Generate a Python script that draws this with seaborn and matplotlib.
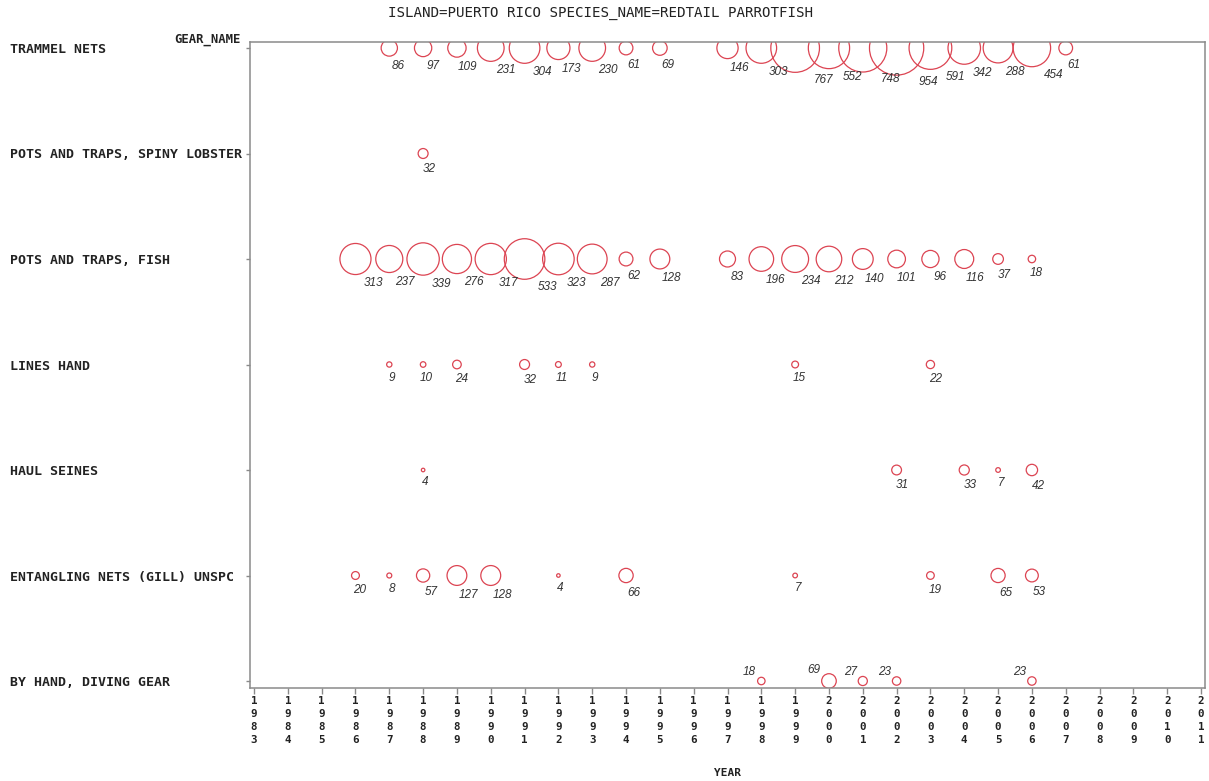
import numpy as np
import pandas as pd
import matplotlib
matplotlib.use("Agg")
import matplotlib.pyplot as plt
import seaborn as sns

# gear names, top row first
gears = ["TRAMMEL NETS", "POTS AND TRAPS, SPINY LOBSTER", "POTS AND TRAPS, FISH",
         "LINES HAND", "HAUL SEINES", "ENTANGLING NETS (GILL) UNSPC",
         "BY HAND, DIVING GEAR"]

trammel_years = [1987, 1988, 1989, 1990, 1991, 1992, 1993, 1994, 1995,
                 1997, 1998, 1999, 2000, 2001, 2002, 2003, 2004, 2005, 2006, 2007]
trammel_vals = [86, 97, 109, 231, 304, 173, 230, 61, 69,
                146, 303, 767, 552, 748, 954, 591, 342, 288, 454, 61]

lobster_years = [1988]
lobster_vals = [32]

fish_years = [1986, 1987, 1988, 1989, 1990, 1991, 1992, 1993, 1994, 1995,
              1997, 1998, 1999, 2000, 2001, 2002, 2003, 2004, 2005, 2006]
fish_vals = [313, 237, 339, 276, 317, 533, 323, 287, 62, 128,
             83, 196, 234, 212, 140, 101, 96, 116, 37, 18]

lines_years = [1987, 1988, 1989, 1991, 1992, 1993, 1999, 2003]
lines_vals = [9, 10, 24, 32, 11, 9, 15, 22]

seine_years = [1988, 2002, 2004, 2005, 2006]
seine_vals = [4, 31, 33, 7, 42]

gill_years = [1986, 1987, 1988, 1989, 1990, 1992, 1994, 1999, 2003, 2005, 2006]
gill_vals = [20, 8, 57, 127, 128, 4, 66, 7, 19, 65, 53]

diving_years = [1998, 2000, 2001, 2002, 2006]
diving_vals = [18, 69, 27, 23, 23]

year_ticks = list(range(1983, 2012))

series = [(trammel_years, trammel_vals), (lobster_years, lobster_vals),
          (fish_years, fish_vals), (lines_years, lines_vals),
          (seine_years, seine_vals), (gill_years, gill_vals),
          (diving_years, diving_vals)]

rows = []
for i, (yrs, vals) in enumerate(series):
    for yr, v in zip(yrs, vals):
        rows.append({"gear": gears[i], "pos": len(gears) - 1 - i, "year": yr, "value": v})
df = pd.DataFrame(rows)

RED = "#dc4452"
GRAY = "#8a8a8a"
MONO = "DejaVu Sans Mono"

sns.set_theme(style="white")
plt.rcParams["font.family"] = ["DejaVu Sans"]

fig = plt.figure(figsize=(12.09, 7.81), dpi=100)
ax = fig.add_axes([250 / 1209, 1 - 688 / 781, 955 / 1209, 646 / 781])

# marker area proportional to value
K = 1.6
vmin, vmax = df["value"].min(), df["value"].max()
sns.scatterplot(data=df, x="year", y="pos", size="value",
                sizes=(K * vmin, K * vmax), size_norm=(vmin, vmax),
                legend=False, facecolor="none", edgecolor=RED,
                linewidth=0.9, ax=ax)
for c in ax.collections:
    c.set_facecolor("none")
    c.set_edgecolor(RED)

# value labels beside each bubble
for _, r in df.iterrows():
    rad = 0.88 * np.sqrt(r["value"])  # px
    if r["pos"] == 0:
        dx, dy = -(rad + 8), 0.5 * rad + 7
    else:
        dx, dy = 1.15 * rad, -(0.85 * rad + 11)
    ax.annotate(str(r["value"]), (r["year"], r["pos"]),
                xytext=(dx * 0.72, dy * 0.72), textcoords="offset points",
                ha="center", va="center", fontsize=8.5, style="italic",
                family="Liberation Sans", color="#333333")

ax.set_xlim(1983 - 4 / 33.82, 2011 + 4 / 33.82)
ax.set_ylim(-7 / 105.5, 6 + 6 / 105.5)

ax.set_xticks(year_ticks)
ax.set_xticklabels(["\n".join(str(y)) for y in year_ticks], family=MONO,
                   weight="bold", fontsize=7.8, linespacing=1.4, color="#222222")
ax.set_yticks(range(len(gears)))
ax.set_yticklabels(gears[::-1], family=MONO, weight="bold", fontsize=9.5,
                   ha="left", color="#222222")

ax.tick_params(axis="x", direction="out", length=4.5, width=1, color=GRAY,
               pad=1, bottom=True)
ax.tick_params(axis="y", direction="out", length=3, width=1, color=GRAY,
               pad=(250 - 10) * 0.72 - 3, left=True)

for sp in ax.spines.values():
    sp.set_visible(True)
    sp.set_color(GRAY)
    sp.set_linewidth(1.1)

ax.set_xlabel("YEAR", family=MONO, weight="bold", fontsize=8, color="#222222")
ax.xaxis.set_label_coords((727 - 250) / 955, (688 - 773) / 646)
ax.xaxis.label.set_va("center")
ax.set_ylabel("GEAR_NAME", family=MONO, weight="bold", fontsize=8.8,
              rotation=0, ha="right", va="center", color="#222222")
ax.yaxis.set_label_coords((241 - 250) / 955, (688 - 39) / 646)

fig.text(600 / 1209, 1 - 13 / 781,
         "ISLAND=PUERTO RICO SPECIES_NAME=REDTAIL PARROTFISH",
         family=MONO, fontsize=10.2, ha="center", va="center", color="#222222")

fig.savefig("out.png", dpi=100)
